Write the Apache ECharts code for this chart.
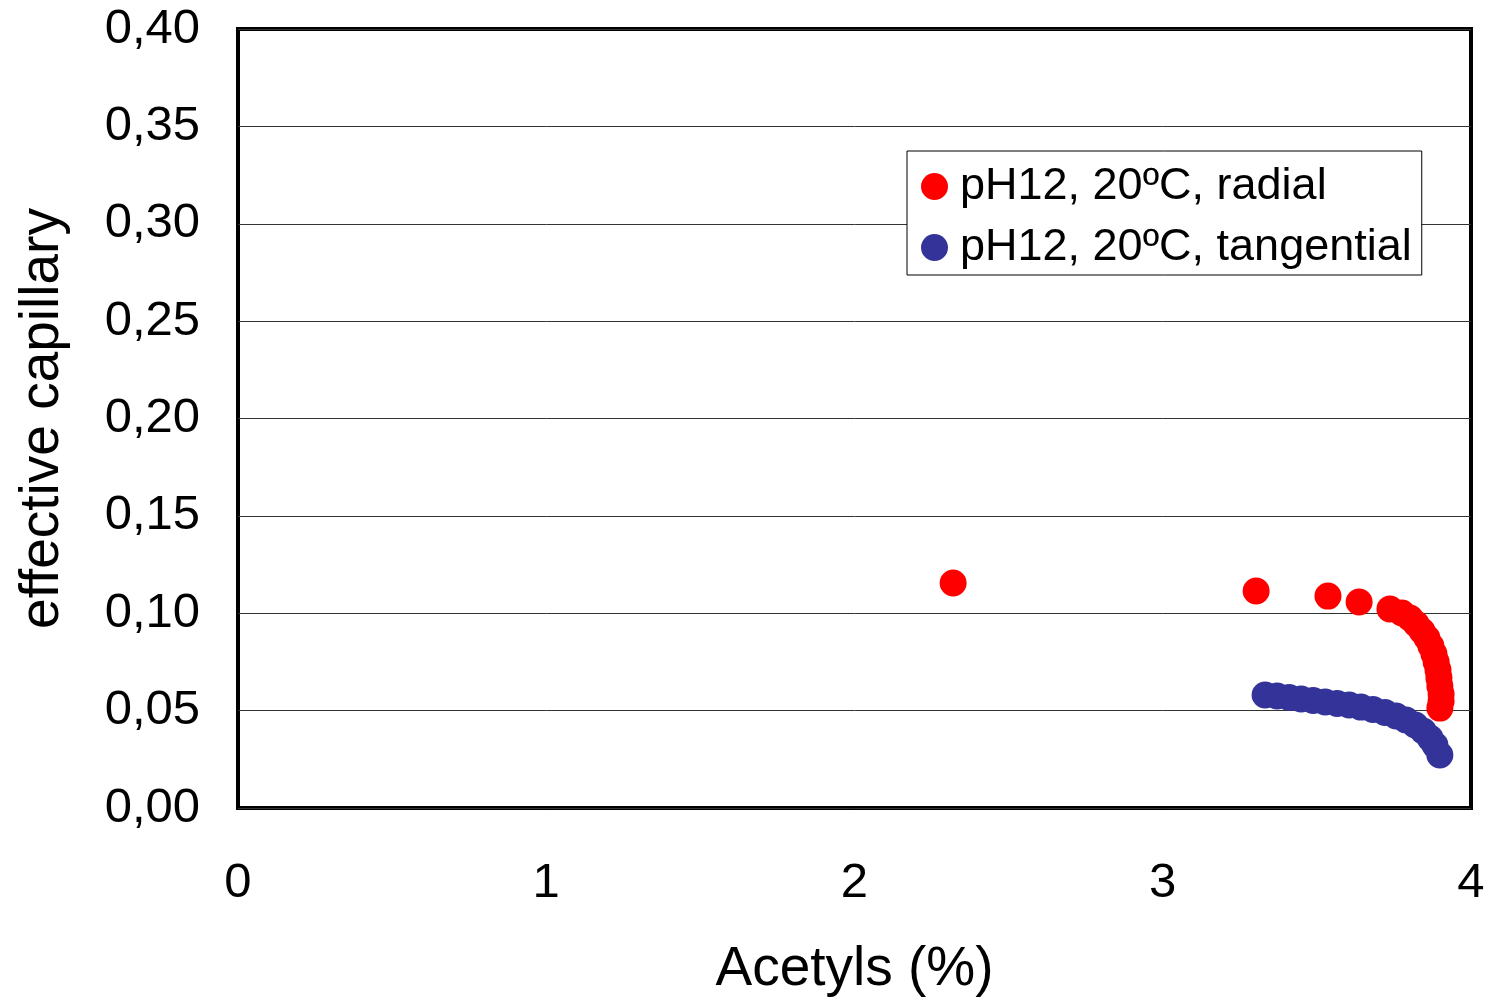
<!DOCTYPE html>
<html>
<head>
<meta charset="utf-8">
<script src="https://cdn.jsdelivr.net/npm/echarts@6/dist/echarts.min.js"></script>
<style>
html,body{margin:0;padding:0;background:#fff;}
#chart{width:1489px;height:997px;}
</style>
</head>
<body>
<div id="chart"></div>
<script>
// Data
var seriesNames = ['pH12, 20ºC, radial', 'pH12, 20ºC, tangential'];
var radialX = [2.32, 3.303, 3.536, 3.637, 3.737, 3.776, 3.802, 3.822, 3.841, 3.857, 3.870, 3.880, 3.887, 3.893, 3.896, 3.899, 3.903, 3.903, 3.899];
var radialY = [0.1155, 0.1114, 0.1088, 0.1058, 0.1022, 0.1001, 0.0976, 0.0945, 0.0909, 0.0873, 0.0832, 0.0791, 0.0750, 0.0709, 0.0668, 0.0626, 0.0585, 0.0549, 0.0513];
var tangX = [3.332, 3.371, 3.410, 3.449, 3.488, 3.527, 3.566, 3.605, 3.643, 3.682, 3.721, 3.757, 3.789, 3.819, 3.845, 3.867, 3.883, 3.899];
var tangY = [0.0580, 0.0575, 0.0568, 0.0560, 0.0552, 0.0544, 0.0537, 0.0529, 0.0518, 0.0506, 0.0490, 0.0472, 0.0452, 0.0426, 0.0395, 0.0359, 0.0323, 0.0272];
var xTicks = [0, 1, 2, 3, 4];
var yTicks = [0, 0.05, 0.10, 0.15, 0.20, 0.25, 0.30, 0.35, 0.40];
var xTitle = 'Acetyls (%)';
var yTitle = 'effective capillary';

function zip(a, b) { return a.map(function (v, i) { return [v, b[i]]; }); }

var font = 'Liberation Sans, Arial, sans-serif';
var chart = echarts.init(document.getElementById('chart'));
chart.setOption({
  animation: false,
  backgroundColor: '#fff',
  grid: { left: 238, right: 18, top: 29, bottom: 189, show: true, borderColor: '#000', borderWidth: 4, backgroundColor: 'transparent', containLabel: false, outerBoundsMode: 'none' },
  legend: {
    left: 907, top: 151,
    orient: 'vertical',
    data: seriesNames,
    backgroundColor: '#fff',
    borderColor: '#000', borderWidth: 1,
    padding: [13, 10, 5, 14],
    itemWidth: 27, itemHeight: 27, itemGap: 16,
    icon: 'circle',
    textStyle: { fontFamily: font, fontSize: 45, color: '#000', lineHeight: 45, padding: [0, 0, 0, 7] }
  },
  xAxis: {
    type: 'value', min: xTicks[0], max: xTicks[xTicks.length - 1], interval: 1,
    name: xTitle, nameLocation: 'middle', nameGap: 134,
    nameTextStyle: { fontFamily: font, fontSize: 55, color: '#000' },
    axisLine: { show: false }, axisTick: { show: false },
    splitLine: { show: false },
    axisLabel: { fontFamily: font, fontSize: 49, color: '#000', margin: 51 }
  },
  yAxis: {
    type: 'value', min: yTicks[0], max: yTicks[yTicks.length - 1], interval: 0.05,
    name: yTitle, nameLocation: 'middle', nameGap: 168,
    nameTextStyle: { fontFamily: font, fontSize: 55, color: '#000' },
    axisLine: { show: false }, axisTick: { show: false },
    splitLine: { show: true, lineStyle: { color: '#333', width: 1 } },
    axisLabel: { fontFamily: font, fontSize: 49, color: '#000', margin: 38, padding: [4, 0, 0, 0],
      formatter: function (v) { return v.toFixed(2).replace('.', ','); } }
  },
  series: [
    { name: seriesNames[0], type: 'scatter', data: zip(radialX, radialY), symbolSize: 27, itemStyle: { color: '#ff0000', opacity: 1 } },
    { name: seriesNames[1], type: 'scatter', data: zip(tangX, tangY), symbolSize: 27, itemStyle: { color: '#333399', opacity: 1 } }
  ]
});
</script>
</body>
</html>
